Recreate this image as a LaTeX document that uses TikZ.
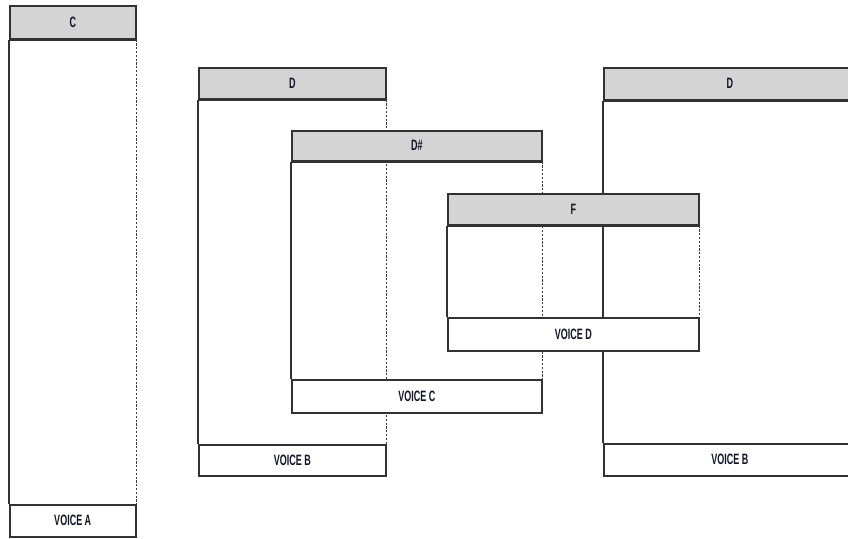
\documentclass[tikz,border=0pt]{standalone}
\usepackage{fontspec}
\setmainfont{Liberation Sans}
\usepackage{graphicx}
\definecolor{linec}{RGB}{50,50,50}
\definecolor{dotc}{RGB}{60,60,60}
\definecolor{headgray}{RGB}{212,212,212}
\definecolor{txtc}{RGB}{20,20,40}
\newcommand\lab[1]{\scalebox{0.6}[1]{#1}}
\tikzset{
  band/.style={draw=linec, line width=1.5pt, anchor=north west, inner sep=0pt,
    text=txtc, font=\fontsize{15}{15}\selectfont\bfseries},
  headband/.style={band, fill=headgray},
  footband/.style={band, fill=white},
  sideline/.style={draw=linec, line width=1.5pt},
  dotline/.style={draw=dotc, line width=1.3pt, dash pattern=on 2.2pt off 1.6pt},
  headrule/.style={draw=linec, line width=2.6pt}
}
\begin{document}
\begin{tikzpicture}[x=1pt,y=-1pt]
\useasboundingbox (0,0) rectangle (848,538);
\clip (0,0) rectangle (848,538);
% invisible geometry nodes giving the anchors of each voice box
\path (9,5)    node[band, draw=none, minimum width=126pt, minimum height=33pt] (hA) {};
\path (9,504)  node[band, draw=none, minimum width=126pt, minimum height=32pt] (fA) {};
\path (198,67) node[band, draw=none, minimum width=187pt, minimum height=31pt] (hB) {};
\path (198,444) node[band, draw=none, minimum width=187pt, minimum height=31pt] (fB) {};
\path (291,130) node[band, draw=none, minimum width=250pt, minimum height=30pt] (hC) {};
\path (291,379) node[band, draw=none, minimum width=250pt, minimum height=33pt] (fC) {};
\path (603,67) node[band, draw=none, minimum width=252pt, minimum height=32pt] (hE) {};
\path (603,443) node[band, draw=none, minimum width=252pt, minimum height=32pt] (fE) {};
\path (447,193) node[band, draw=none, minimum width=251pt, minimum height=31pt] (hD) {};
\path (447,317) node[band, draw=none, minimum width=251pt, minimum height=33pt] (fD) {};
% body side lines
\draw[sideline] (hA.south west) -- (fA.north west);
\draw[dotline]  (hA.south east) -- (fA.north east);
\draw[sideline] (hB.south west) -- (fB.north west);
\draw[dotline]  (hB.south east) -- (fB.north east);
\draw[sideline] (hC.south west) -- (fC.north west);
\draw[dotline]  (hC.south east) -- (fC.north east);
\draw[sideline] (hE.south west) -- (fE.north west);
\draw[dotline]  (hE.south east) -- (fE.north east);
\draw[sideline] (hD.south west) -- (fD.north west);
\draw[dotline]  (hD.south east) -- (fD.north east);
% headers and footers on top
\node[headband, minimum width=126pt, minimum height=33pt] (HA) at (9,5) {\lab{C}};
\node[footband, minimum width=126pt, minimum height=32pt] (FA) at (9,504) {\lab{VOICE A}};
\node[headband, minimum width=187pt, minimum height=31pt] (HB) at (198,67) {\lab{D}};
\node[footband, minimum width=187pt, minimum height=31pt] (FB) at (198,444) {\lab{VOICE B}};
\node[headband, minimum width=250pt, minimum height=30pt] (HC) at (291,130) {\lab{D\#}};
\node[footband, minimum width=250pt, minimum height=33pt] (FC) at (291,379) {\lab{VOICE C}};
\node[headband, minimum width=252pt, minimum height=32pt] (HE) at (603,67) {\lab{D}};
\node[footband, minimum width=252pt, minimum height=32pt] (FE) at (603,443) {\lab{VOICE B}};
\node[headband, minimum width=251pt, minimum height=31pt] (HD) at (447,193) {\lab{F}};
\node[footband, minimum width=251pt, minimum height=33pt] (FD) at (447,317) {\lab{VOICE D}};
% thicker rule under each header
\draw[headrule] (HA.south west) -- (HA.south east);
\draw[headrule] (HB.south west) -- (HB.south east);
\draw[headrule] (HC.south west) -- (HC.south east);
\draw[headrule] (HE.south west) -- (HE.south east);
\draw[headrule] (HD.south west) -- (HD.south east);
\end{tikzpicture}
\end{document}
